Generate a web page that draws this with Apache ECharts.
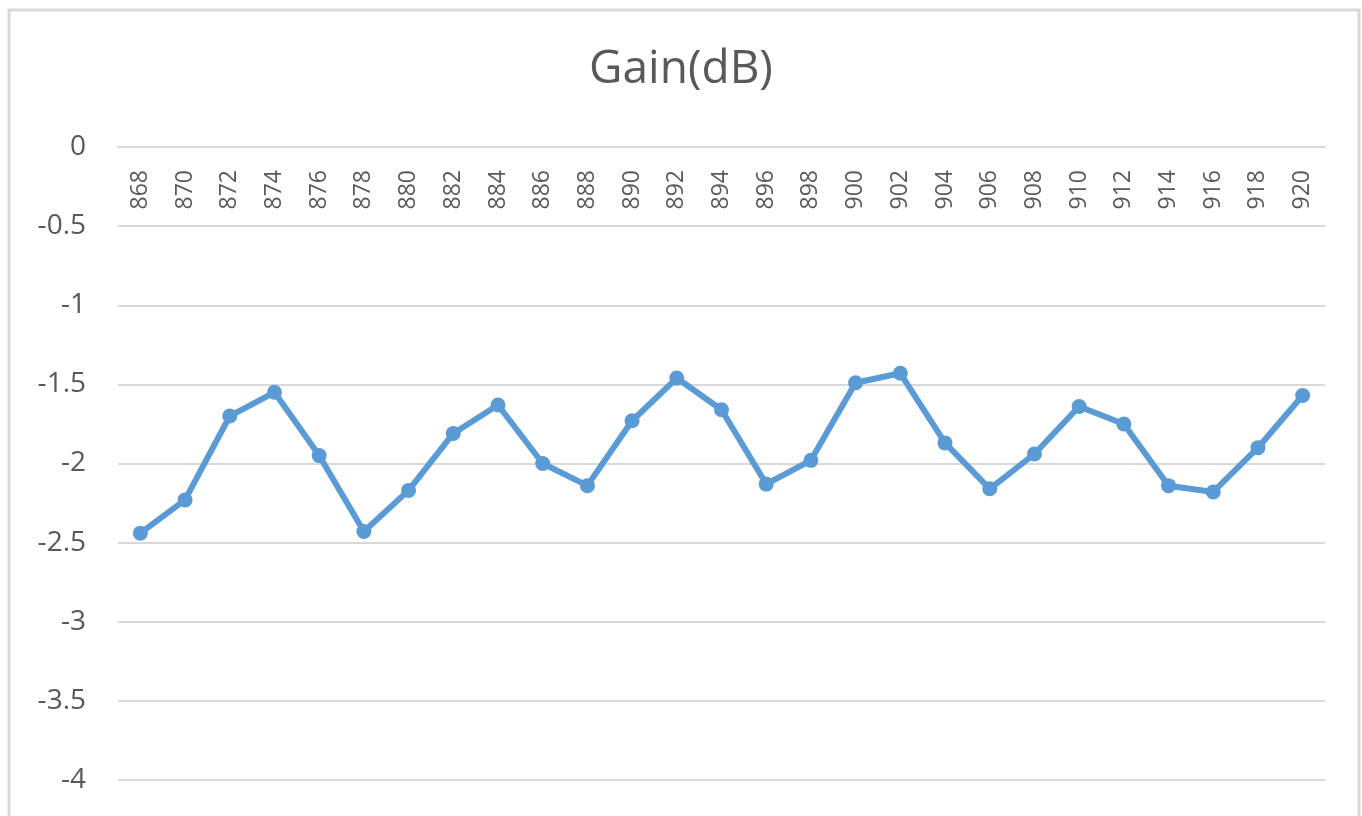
<!DOCTYPE html>
<html lang="en">
<head>
	<meta charset="UTF-8">
	<title>Gain(dB)</title>
	<style>
		html,body{margin:0;padding:0;background:#fff;}
	</style>
</head>
<body>
	<div id="chart_gain" style="width:1362px;height:816px;"></div>
</body>
</html>
<script src="https://cdn.jsdelivr.net/npm/echarts@6/dist/echarts.min.js"></script>
<script>
	var freqs = ['868','870','872','874','876','878','880','882','884','886','888','890','892','894','896','898','900','902','904','906','908','910','912','914','916','918','920'];
	var gain = [-2.44,-2.23,-1.70,-1.55,-1.95,-2.43,-2.17,-1.81,-1.63,-2.00,-2.14,-1.73,-1.46,-1.66,-2.13,-1.98,-1.49,-1.43,-1.87,-2.16,-1.94,-1.64,-1.75,-2.14,-2.18,-1.90,-1.57];
	var yMin = -4, yMax = 0, yStep = 0.5;

	var myChart = echarts.init(document.getElementById('chart_gain'));

	var option = {
		backgroundColor: '#fff',
		animation: false,
		title: {
			text: 'Gain(dB)',
			left: 'center',
			top: 42,
			textStyle: {
				color: '#595959',
				fontFamily: 'Open Sans',
				fontWeight: 'normal',
				fontSize: 46
			}
		},
		graphic: [{
			type: 'rect',
			shape: { x: 9, y: 10, width: 1350, height: 820 },
			style: { fill: 'none', stroke: '#d9d9d9', lineWidth: 3 },
			silent: true
		}],
		grid: {
			left: 118,
			right: 37,
			top: 147,
			bottom: 36,
			outerBoundsMode: 'none'
		},
		xAxis: {
			type: 'category',
			data: freqs,
			position: 'top',
			boundaryGap: true,
			axisLine: {
				lineStyle: { color: '#d9d9d9', width: 2 }
			},
			axisTick: { show: false },
			axisLabel: {
				inside: true,
				rotate: 90,
				margin: 23,
				color: '#595959',
				fontFamily: 'Open Sans',
				fontSize: 23,
				interval: 0
			}
		},
		yAxis: {
			type: 'value',
			min: yMin,
			max: yMax,
			interval: yStep,
			axisLine: { show: false },
			axisTick: { show: false },
			splitLine: {
				lineStyle: { color: '#d9d9d9', width: 2 }
			},
			axisLabel: {
				margin: 32,
				color: '#595959',
				fontFamily: 'Open Sans',
				fontSize: 28
			}
		},
		series: [{
			name: 'Gain',
			type: 'line',
			data: gain,
			symbol: 'circle',
			symbolSize: 15,
			lineStyle: { color: '#5b9bd5', width: 6 },
			itemStyle: { color: '#5b9bd5' }
		}]
	};
	myChart.setOption(option);
</script>
